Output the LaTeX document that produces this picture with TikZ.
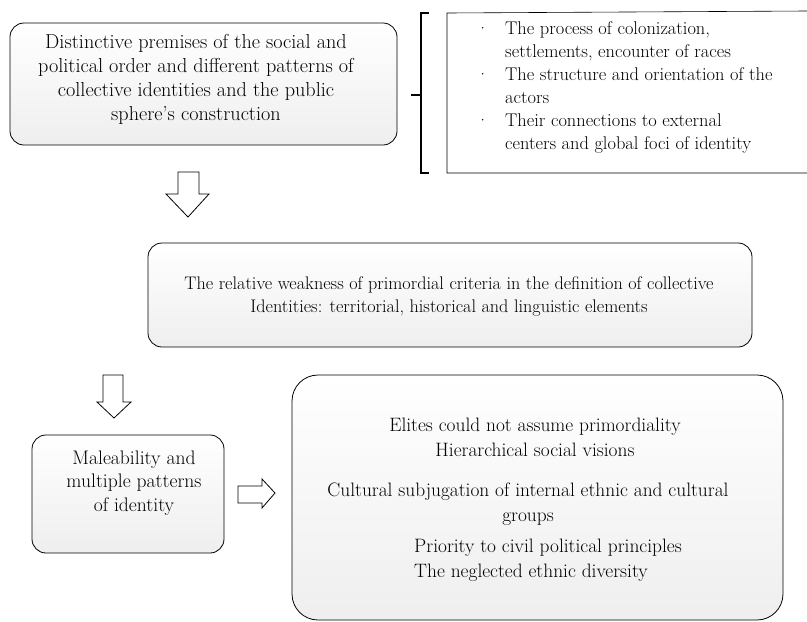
\documentclass[tikz,border=0pt]{standalone}
\usepackage{fontspec}
\begin{document}
\begin{tikzpicture}[x=1pt,y=-1pt,
  box/.style={draw, line width=0.8pt, rounded corners=14pt, top color=white, middle color=white, bottom color=gray!13, inner sep=0pt},
  blockarrow/.style={draw, line width=0.8pt, fill=white, line join=miter},
  txt/.style={align=center, inner sep=0pt},
  fA/.style={font=\fontsize{20.2}{24}\selectfont},
  fB/.style={font=\fontsize{18.2}{23}\selectfont},
  fL/.style={font=\fontsize{18.4}{23}\selectfont},
  fC/.style={font=\fontsize{19.6}{23.5}\selectfont},
  fD/.style={font=\fontsize{19.4}{25}\selectfont}]
\path[use as bounding box] (0,0) rectangle (807,622);

% Box 1
\node[box, minimum width=387pt, minimum height=122pt] (b1) at (203.5,84) {};
\node[txt, fA] (t1) at (196,79) {Distinctive premises of the social and\\political order and different patterns of\\collective identities and the public\\sphere's construction};

% bracket and factor list
\coordinate (lt) at (447,13);
\coordinate (lb) at (447,173);
\draw[line width=0.6pt] (807,11) -- (lt) -- (lb) -- (807,173);
\draw[line width=1.1pt] (429,13) -- (421,13) -- (421,173) -- (429,173);
\draw[line width=1.1pt] (411,95) -- (421,95);
\node[anchor=north west, align=left, inner sep=0pt, fL] (list) at (476,21)
{\makebox[29pt][l]{·}The process of colonization,\\
 \hspace*{29pt}settlements, encounter of races\\
 \makebox[29pt][l]{·}The structure and orientation of the\\
 \hspace*{29pt}actors\\
 \makebox[29pt][l]{·}Their connections to external\\
 \hspace*{29pt}centers and global foci of identity};

% Arrow 1
\draw[blockarrow] (178,172) -- (199,172) -- (199,194) -- (209,194) -- (188,217) -- (166,194) -- (178,194) -- cycle;

% Box 2
\node[box, minimum width=604pt, minimum height=104pt] (b2) at (450,295) {};
\node[txt, fB] (t2) at (449,296) {The relative weakness of primordial criteria in the definition of collective\\Identities: territorial, historical and linguistic elements};

% Arrow 2
\draw[blockarrow] (103,375) -- (123,375) -- (123,402) -- (131,402) -- (114,418) -- (97,402) -- (103,402) -- cycle;

% Box 3
\node[box, minimum width=192pt, minimum height=118pt] (b3) at (128,494) {};
\node[txt, fC] (t3) at (134,483) {Maleability and\\multiple patterns\\of identity};

% Arrow 3
\draw[blockarrow] (238,486) -- (262,486) -- (262,479) -- (275,493) -- (262,508) -- (262,503) -- (238,503) -- cycle;

% Box 4
\node[box, rounded corners=26pt, minimum width=491pt, minimum height=245pt] (b4) at (537.5,497.5) {};
\node[txt, fD] (t4a) at (535,437) {Elites could not assume primordiality\\Hierarchical social visions};
\node[txt, fD] (t4b) at (528,504) {Cultural subjugation of internal ethnic and cultural\\groups};
\node[anchor=west, align=left, inner sep=0pt, fD] (t4c) at (414,560) {Priority to civil political principles\\The neglected ethnic diversity};
\end{tikzpicture}
\end{document}
